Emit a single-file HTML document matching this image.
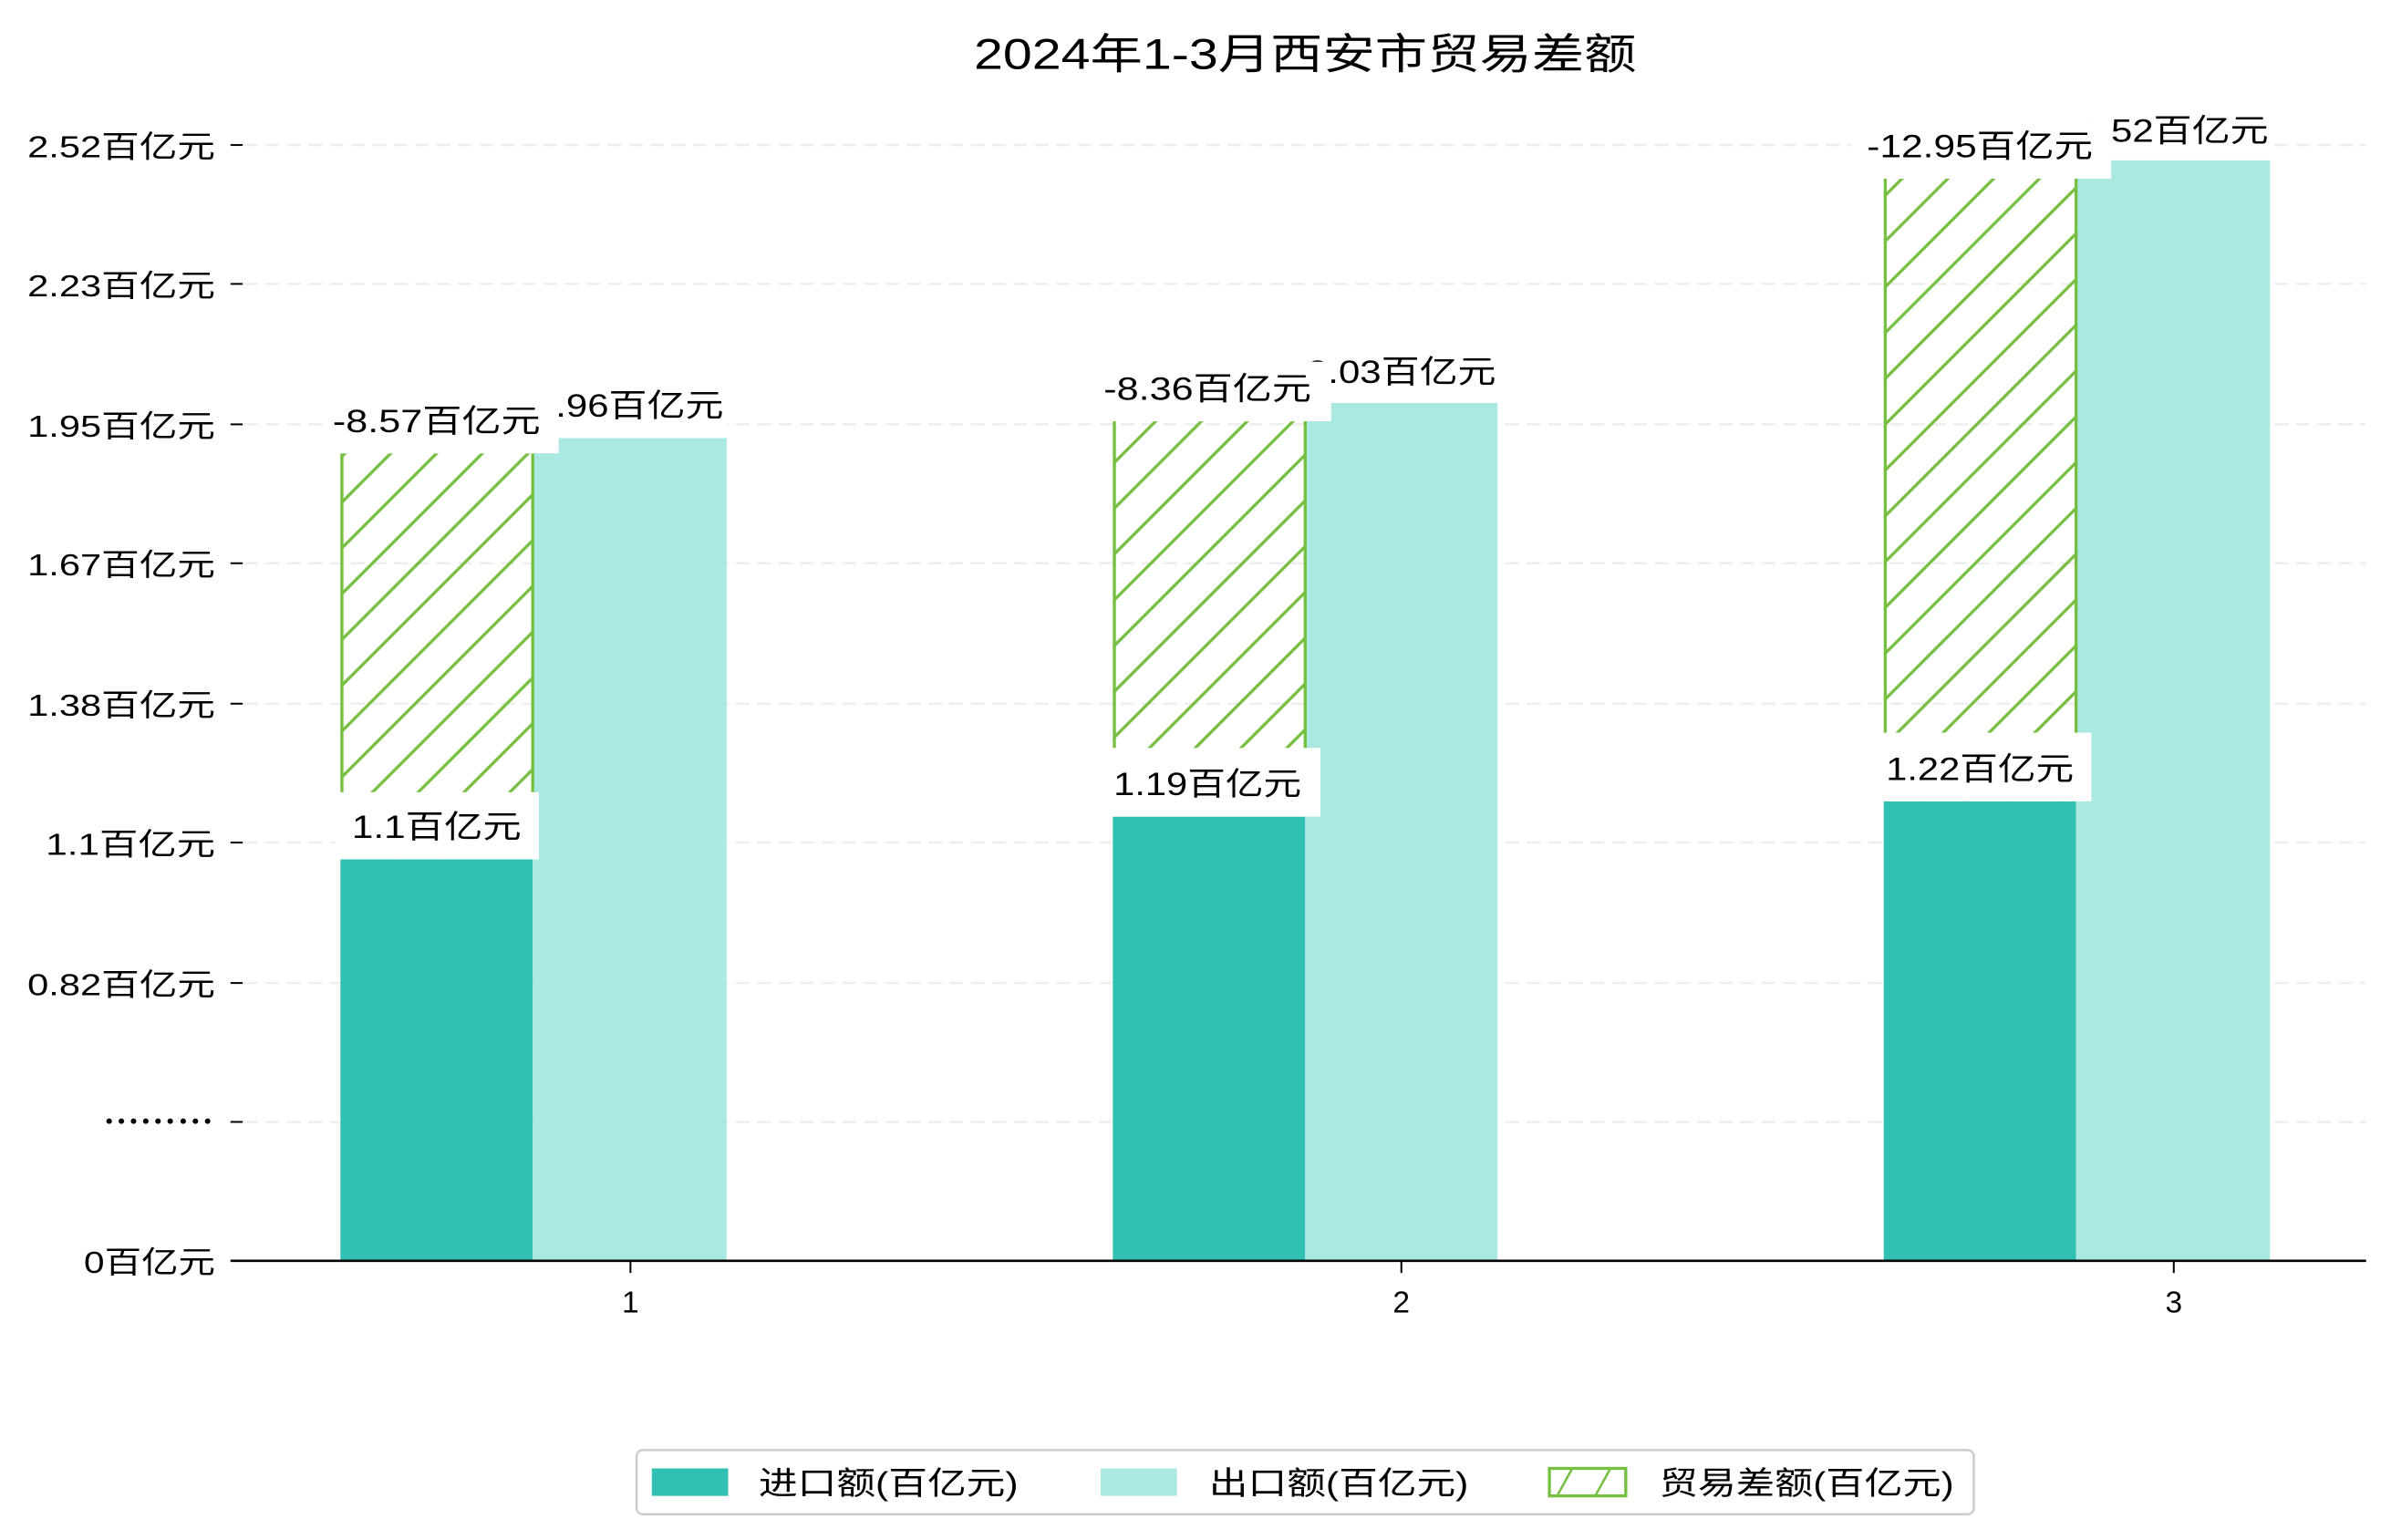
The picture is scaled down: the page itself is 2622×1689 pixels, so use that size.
<!DOCTYPE html>
<html><head><meta charset="utf-8"><style>
html,body{margin:0;padding:0;background:#fff;}
svg{display:block;}
text{font-family:"Liberation Sans","Noto Sans CJK SC",sans-serif;fill:#000;}
</style></head><body>
<svg width="2622" height="1689" viewBox="0 0 1566.3 1008.9" preserveAspectRatio="none" xmlns="http://www.w3.org/2000/svg">
<defs>
<pattern id="h" patternUnits="userSpaceOnUse" width="30" height="30" patternTransform="translate(223,0)">
<path d="M-5,35 L35,-5 M-35,35 L5,-5 M25,35 L65,-5" stroke="#76bf41" stroke-width="2"/>
</pattern>
</defs>
<rect width="1567" height="1010" fill="#fff"/>
<text x="855" y="45" font-size="28" text-anchor="middle" textLength="434" lengthAdjust="spacingAndGlyphs">2024年1-3月西安市贸易差额</text>
<g stroke="#eeeeee" stroke-width="1.5" stroke-dasharray="9,5">
<line x1="160" y1="95" x2="1550" y2="95"/><line x1="160" y1="186" x2="1550" y2="186"/>
<line x1="160" y1="278" x2="1550" y2="278"/><line x1="160" y1="369" x2="1550" y2="369"/>
<line x1="160" y1="461" x2="1550" y2="461"/><line x1="160" y1="552" x2="1550" y2="552"/>
<line x1="160" y1="644" x2="1550" y2="644"/><line x1="160" y1="735" x2="1550" y2="735"/>
</g>
<g stroke="#000" stroke-width="1.2">
<line x1="151" y1="95" x2="159" y2="95"/><line x1="151" y1="186" x2="159" y2="186"/>
<line x1="151" y1="278" x2="159" y2="278"/><line x1="151" y1="369" x2="159" y2="369"/>
<line x1="151" y1="461" x2="159" y2="461"/><line x1="151" y1="552" x2="159" y2="552"/>
<line x1="151" y1="644" x2="159" y2="644"/><line x1="151" y1="735" x2="159" y2="735"/>
<line x1="413" y1="826" x2="413" y2="834"/><line x1="918" y1="826" x2="918" y2="834"/><line x1="1424" y1="826" x2="1424" y2="834"/>
</g>
<g fill="#000">
<circle cx="71.5" cy="734.5" r="1.8"/><circle cx="79.5" cy="734.5" r="1.8"/><circle cx="87.5" cy="734.5" r="1.8"/>
<circle cx="95.5" cy="734.5" r="1.8"/><circle cx="103.5" cy="734.5" r="1.8"/><circle cx="111.5" cy="734.5" r="1.8"/>
<circle cx="120" cy="734.5" r="1.8"/><circle cx="128" cy="734.5" r="1.8"/><circle cx="136" cy="734.5" r="1.8"/>
</g>
<g font-size="20" text-anchor="end">
<text x="141" y="103" textLength="123" lengthAdjust="spacingAndGlyphs">2.52百亿元</text>
<text x="141" y="194" textLength="123" lengthAdjust="spacingAndGlyphs">2.23百亿元</text>
<text x="141" y="286" textLength="123" lengthAdjust="spacingAndGlyphs">1.95百亿元</text>
<text x="141" y="377" textLength="123" lengthAdjust="spacingAndGlyphs">1.67百亿元</text>
<text x="141" y="469" textLength="123" lengthAdjust="spacingAndGlyphs">1.38百亿元</text>
<text x="141" y="560" textLength="111" lengthAdjust="spacingAndGlyphs">1.1百亿元</text>
<text x="141" y="652" textLength="123" lengthAdjust="spacingAndGlyphs">0.82百亿元</text>
<text x="141" y="834" textLength="86" lengthAdjust="spacingAndGlyphs">0百亿元</text>
</g>
<g font-size="20" text-anchor="middle">
<text x="413" y="860">1</text><text x="918" y="860">2</text><text x="1424" y="860">3</text>
</g>
<rect x="223" y="563" width="126" height="263" fill="#31c1b3"/>
<rect x="349" y="287" width="127" height="539" fill="#aae8e2"/>
<rect x="729" y="535" width="126" height="291" fill="#31c1b3"/>
<rect x="855" y="264" width="126" height="562" fill="#aae8e2"/>
<rect x="1234" y="525" width="126" height="301" fill="#31c1b3"/>
<rect x="1360" y="105" width="127" height="721" fill="#aae8e2"/>
<rect x="223" y="297" width="126" height="266" fill="url(#h)"/>
<rect x="729" y="276" width="126" height="259" fill="url(#h)"/>
<rect x="1234" y="117" width="126" height="408" fill="url(#h)"/>
<g stroke="#76bf41" stroke-width="2">
<line x1="224" y1="297" x2="224" y2="563"/><line x1="349" y1="297" x2="349" y2="563"/>
<line x1="730" y1="276" x2="730" y2="535"/><line x1="855" y1="276" x2="855" y2="535"/>
<line x1="1235" y1="117" x2="1235" y2="525"/><line x1="1360" y1="117" x2="1360" y2="525"/>
</g>
<line x1="151" y1="826" x2="1550" y2="826" stroke="#000" stroke-width="1.5"/>
<g font-size="21" text-anchor="middle">
<rect x="220" y="519" width="133" height="44" fill="#fff"/><text x="286" y="549" textLength="111" lengthAdjust="spacingAndGlyphs">1.1百亿元</text>
<rect x="347" y="248" width="129" height="39" fill="#fff"/><text x="412" y="273" textLength="124" lengthAdjust="spacingAndGlyphs">1.96百亿元</text>
<rect x="213" y="258" width="153" height="39" fill="#fff"/><text x="286" y="283" textLength="136" lengthAdjust="spacingAndGlyphs">-8.57百亿元</text>
<rect x="717" y="490" width="148" height="45" fill="#fff"/><text x="791" y="521" textLength="123" lengthAdjust="spacingAndGlyphs">1.19百亿元</text>
<rect x="853" y="226" width="129" height="38" fill="#fff"/><text x="918" y="251" textLength="124" lengthAdjust="spacingAndGlyphs">2.03百亿元</text>
<rect x="719" y="237" width="153" height="39" fill="#fff"/><text x="791" y="262" textLength="136" lengthAdjust="spacingAndGlyphs">-8.36百亿元</text>
<rect x="1222" y="480" width="148" height="45" fill="#fff"/><text x="1297" y="511" textLength="123" lengthAdjust="spacingAndGlyphs">1.22百亿元</text>
<rect x="1360" y="66" width="129" height="39" fill="#fff"/><text x="1424" y="93" textLength="124" lengthAdjust="spacingAndGlyphs">2.52百亿元</text>
<rect x="1213" y="78" width="170" height="39" fill="#fff"/><text x="1297" y="103" textLength="148" lengthAdjust="spacingAndGlyphs">-12.95百亿元</text>
</g>
<rect x="417" y="950" width="876" height="42" rx="4" fill="#fff" stroke="#cccccc" stroke-width="1.5"/>
<rect x="427" y="962" width="50" height="18" fill="#31c1b3"/>
<rect x="721" y="962" width="50" height="18" fill="#aae8e2"/>
<rect x="1015" y="962" width="50" height="18" fill="#fff" stroke="#76bf41" stroke-width="2"/>
<path d="M1020,980 L1030,962 M1045,980 L1055,962" stroke="#76bf41" stroke-width="1.5"/>
<g font-size="21">
<text x="497" y="979" textLength="170" lengthAdjust="spacingAndGlyphs">进口额(百亿元)</text>
<text x="792" y="979" textLength="170" lengthAdjust="spacingAndGlyphs">出口额(百亿元)</text>
<text x="1087" y="979" textLength="193" lengthAdjust="spacingAndGlyphs">贸易差额(百亿元)</text>
</g>
</svg>
</body></html>
